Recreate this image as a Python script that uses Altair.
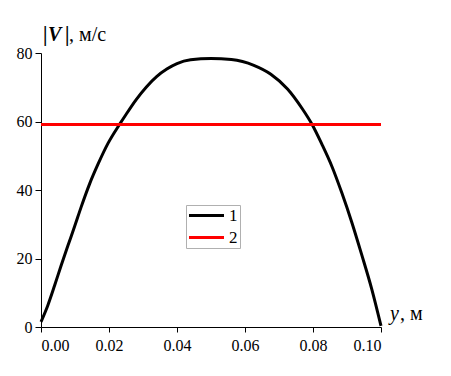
import altair as alt
import pandas as pd

# Series 1: |V| profile across the channel
y_pos = [0.0, 0.002, 0.004, 0.0059, 0.0079, 0.0099, 0.0118, 0.0143, 0.0168, 0.0197,
         0.0232, 0.0251, 0.028, 0.031, 0.034, 0.037, 0.040, 0.044, 0.050, 0.056,
         0.0626, 0.0676, 0.0725, 0.0768, 0.0797, 0.0826, 0.0856, 0.0885, 0.0914,
         0.0943, 0.0973, 0.1]
v_abs = [1.5, 6.3, 12.1, 17.9, 23.7, 29.4, 35.0, 41.8, 47.6, 53.6,
         59.3, 62.2, 66.4, 70.1, 73.1, 75.3, 76.9, 78.0, 78.4, 78.1,
         76.4, 73.8, 69.5, 63.8, 59.2, 53.4, 46.8, 39.1, 30.6,
         21.2, 11.0, 0.3]

# Series 2: constant level
y_const = [0.0, 0.1]
v_const = [59.1, 59.1]

series_names = ["1", "2"]
series_colors = ["#000000", "#ff0000"]

x_ticks = [0.0, 0.02, 0.04, 0.06, 0.08, 0.10]
y_ticks = [0, 20, 40, 60, 80]

df = pd.concat([
    pd.DataFrame({"y": y_pos, "v": v_abs, "s": series_names[0], "o": range(len(y_pos))}),
    pd.DataFrame({"y": y_const, "v": v_const, "s": series_names[1], "o": range(len(y_const))}),
])

FONT = "Liberation Serif"

x_enc = alt.X("y:Q", scale=alt.Scale(domain=[0, 0.1], nice=False, zero=False),
              axis=alt.Axis(values=x_ticks, format=".2f", title=None, grid=False,
                            domainColor="black", tickColor="black", tickSize=5,
                            labelPadding=5, labelFont=FONT, labelFontSize=16,
                            labelColor="black"))
y_enc = alt.Y("v:Q", scale=alt.Scale(domain=[0, 80], nice=False),
              axis=alt.Axis(values=y_ticks, title=None, grid=False,
                            domainColor="black", tickColor="black", tickSize=6,
                            labelPadding=3, labelFont=FONT, labelFontSize=16,
                            labelColor="black"))

lines = alt.Chart(df).mark_line(strokeWidth=3, interpolate="monotone").encode(
    x=x_enc,
    y=y_enc,
    order="o:Q",
    color=alt.Color("s:N", scale=alt.Scale(domain=series_names, range=series_colors),
                    legend=alt.Legend(title=None, orient="none", legendX=145, legendY=152,
                                      symbolType="M-2.5,0L2.5,0", symbolStrokeWidth=3,
                                      symbolSize=196, labelFont=FONT, labelFontSize=17,
                                      labelColor="black", strokeColor="#b0b0b0",
                                      fillColor="white", padding=2, rowPadding=4,
                                      labelOffset=14, symbolOffset=10)),
)

one = pd.DataFrame({"a": [0]})

def txt(text, x, y, style="normal", weight="normal"):
    return alt.Chart(one).mark_text(text=text, font=FONT, fontSize=20, fontStyle=style,
                                    fontWeight=weight, align="left", baseline="alphabetic",
                                    fill="black").encode(x=alt.value(x), y=alt.value(y))

titles = [
    txt("|", 2, -12, weight="bold"),
    txt("V", 7, -12, style="italic", weight="bold"),
    txt("|", 24, -12, weight="bold"),
    txt(", м/с", 28, -12),
    txt("y", 349, 267, style="italic"),
    txt(", м", 359, 267),
]

chart = alt.layer(lines, *titles).properties(
    width=340, height=274,
    autosize=alt.AutoSizeParams(type="none"),
    padding={"left": 41, "top": 53, "right": 70, "bottom": 49},
).configure(background="white").configure_view(stroke=None)

chart.save("out.html", embed_options={"renderer": "svg", "actions": False})
